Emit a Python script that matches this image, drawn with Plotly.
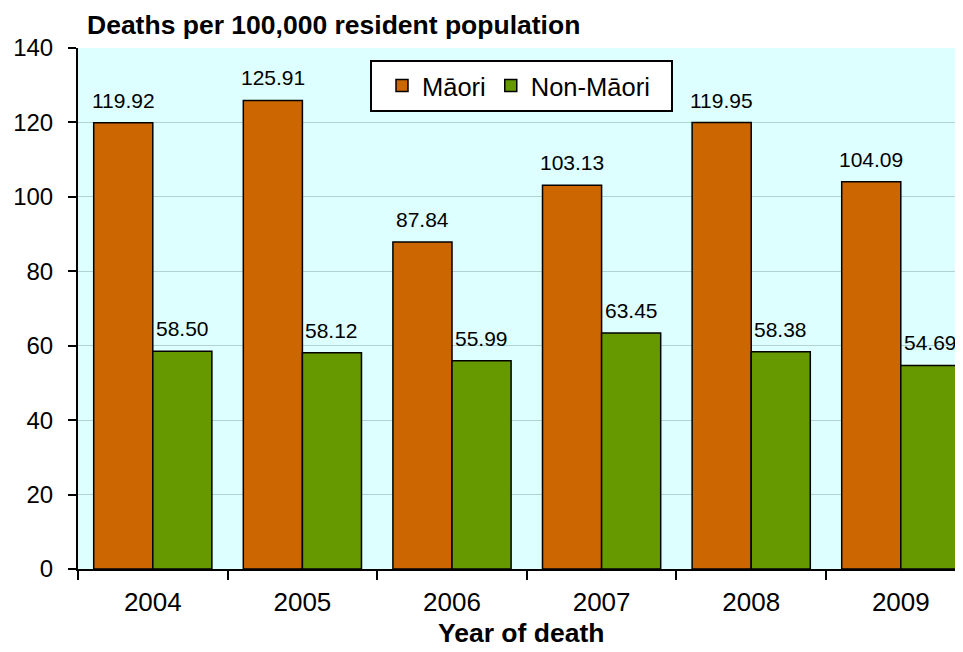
import plotly.graph_objects as go

years = ["2004", "2005", "2006", "2007", "2008", "2009"]
maori = [119.92, 125.91, 87.84, 103.13, 119.95, 104.09]
non_maori = [58.50, 58.12, 55.99, 63.45, 58.38, 54.69]
series_names = ["Māori", "Non-Māori"]
colors = ["#CC6600", "#669900"]

FONT = "Liberation Sans, Arial, sans-serif"

# the page body adds an 8px margin; size/margins compensate
OFF = 8
W, H = 963 - OFF, 652 - OFF
L, T, R = 78 - OFF, 48 - OFF, 0
B = H - T - (569 - 48)
plot_w = W - L - R
plot_h = H - T - B
CAT_PX = 149.6  # pixels per category in the reference


def px_x(sx):
    return (sx - 78) / plot_w


def px_y(sy):
    return 1 - (sy - 48) / plot_h


fig = go.Figure()
for name, vals, col in zip(series_names, [maori, non_maori], colors):
    fig.add_trace(go.Bar(
        x=years, y=vals, name=name,
        marker=dict(color=col, line=dict(color="#000000", width=1.5)),
    ))

bargap = 0.21
half = (1 - bargap) / 4
anns = []
for i, (m, n) in enumerate(zip(maori, non_maori)):
    for off, v in ((-half, m), (half, n)):
        anns.append(dict(
            x=i + off, y=v, text=f"{v:.2f}", showarrow=False,
            xref="x", yref="y",
            yanchor="bottom", yshift=9,
            font=dict(family=FONT, size=21, color="#000000"),
        ))
anns.append(dict(
    text="<b>Deaths per 100,000 resident population</b>",
    xref="paper", yref="paper", x=px_x(85), y=px_y(25),
    xanchor="left", yanchor="middle", showarrow=False,
    font=dict(family=FONT, size=26.5, color="#000000"),
))
anns.append(dict(
    text="<b>Year of death</b>",
    xref="paper", yref="paper", x=px_x(521), y=px_y(633),
    xanchor="center", yanchor="middle", showarrow=False,
    font=dict(family=FONT, size=26.5, color="#000000"),
))

shapes = [dict(
    type="rect", xref="paper", yref="paper",
    x0=px_x(371), x1=px_x(672), y0=px_y(111), y1=px_y(61),
    fillcolor="#FFFFFF", line=dict(color="#000000", width=2), layer="above",
)]

fig.update_layout(
    width=W, height=H,
    margin=dict(l=L, r=R, t=T, b=B, autoexpand=False),
    paper_bgcolor="#FFFFFF",
    plot_bgcolor="#DDFFFF",
    barmode="group", bargap=bargap, bargroupgap=0,
    font=dict(family=FONT, size=24, color="#000000"),
    showlegend=True,
    legend=dict(
        orientation="h", x=px_x(382), y=px_y(86),
        xanchor="left", yanchor="middle",
        bgcolor="rgba(0,0,0,0)", borderwidth=0,
        font=dict(family=FONT, size=25.5, color="#000000"),
    ),
    annotations=anns,
    shapes=shapes,
)

fig.update_xaxes(
    type="category", range=[-0.5, -0.5 + plot_w / CAT_PX],
    tickson="boundaries", ticks="outside", ticklen=9, tickwidth=1.5, tickcolor="#000000",
    ticklabelstandoff=9,
    showline=True, linecolor="#000000", linewidth=2,
    showgrid=False,
    tickfont=dict(family=FONT, size=26),
)
fig.update_yaxes(
    range=[0, 140], dtick=20, tick0=0,
    ticks="outside", ticklen=8, tickwidth=1.5, tickcolor="#000000",
    ticklabelstandoff=10,
    showline=True, linecolor="#000000", linewidth=2,
    showgrid=True, gridcolor="#B2D2D2", gridwidth=1,
    zeroline=False,
    tickfont=dict(family=FONT, size=24),
)

fig.write_html("out.html")
